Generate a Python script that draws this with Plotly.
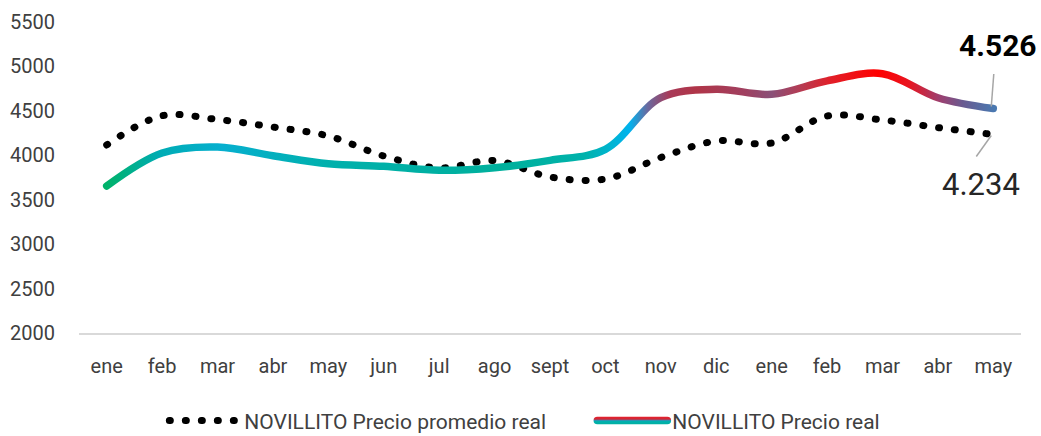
import plotly.graph_objects as go

months = ["ene", "feb", "mar", "abr", "may", "jun", "jul", "ago", "sept", "oct",
          "nov", "dic", "ene", "feb", "mar", "abr", "may"]
precio_promedio_real = [4116, 4445, 4403, 4318, 4217, 3992, 3857, 3941, 3756, 3733,
                        3975, 4161, 4138, 4442, 4397, 4312, 4234]
precio_real = [3654, 4026, 4093, 3995, 3905, 3876, 3831, 3860, 3943, 4067,
               4648, 4742, 4686, 4838, 4918, 4648, 4526]
y_ticks = [2000, 2500, 3000, 3500, 4000, 4500, 5000, 5500]

idx = list(range(len(months)))
FONT = "Roboto, 'Liberation Sans', sans-serif"
TXT = "#404040"

fig = go.Figure()
fig.add_trace(go.Scatter(
    x=idx, y=precio_promedio_real, mode="lines",
    name="NOVILLITO Precio promedio real",
    line=dict(color="#000000", width=7, dash="1px,15px", shape="spline"),
    hoverinfo="skip",
))
fig.add_trace(go.Scatter(
    x=idx, y=precio_real, mode="lines",
    name="NOVILLITO Precio real",
    line=dict(color="#00b0a0", width=7.5, shape="spline"),
    hoverinfo="skip",
))

last = len(idx) - 1
fig.add_annotation(x=idx[last], y=precio_real[last], xref="x", yref="y",
                   text="<b>4.526</b>", showarrow=False, xshift=5, yshift=63,
                   font=dict(family=FONT, size=30, color="#000000"))
fig.add_annotation(x=idx[last], y=precio_promedio_real[last], xref="x", yref="y",
                   text="4.234", showarrow=False, xshift=-12, yshift=-50,
                   font=dict(family=FONT, size=31, color="#262626"))
fig.add_shape(type="line", xref="x", yref="y", xsizemode="pixel", ysizemode="pixel",
              xanchor=idx[last], yanchor=precio_real[last],
              x0=-2, y0=2, x1=0.5, y1=34.5,
              line=dict(color="#a6a6a6", width=1.5))
fig.add_shape(type="line", xref="x", yref="y", xsizemode="pixel", ysizemode="pixel",
              xanchor=idx[last], yanchor=precio_promedio_real[last],
              x0=-2, y0=-1, x1=-17, y1=-22,
              line=dict(color="#a6a6a6", width=1.5))

fig.update_layout(
    width=1041, height=436,
    margin=dict(l=79, r=20, t=22, b=103, autoexpand=False),
    paper_bgcolor="white", plot_bgcolor="white",
    font=dict(family=FONT, size=20, color=TXT),
    showlegend=True,
    legend=dict(orientation="h", xref="container", yref="container",
                x=0.569, xanchor="center", y=0.035, yanchor="middle",
                font=dict(family=FONT, size=21, color=TXT), itemwidth=70,
                entrywidth=343,
                bgcolor="rgba(0,0,0,0)"),
    xaxis=dict(range=[-0.5, len(idx) - 0.5], tickmode="array", tickvals=idx,
               ticktext=months, showgrid=False, zeroline=False,
               showline=True, linecolor="#d9d9d9", linewidth=1.5,
               ticks="", ticklabelstandoff=14, fixedrange=True),
    yaxis=dict(range=[2000, 5500], tickmode="array", tickvals=y_ticks,
               showgrid=False, zeroline=False, showline=False, ticks="",
               ticklabelstandoff=23, fixedrange=True),
)

post = r"""
document.body.style.margin = '0';
document.body.style.padding = '0';
var gd = document.getElementById('{plot_id}');
var ns = 'http://www.w3.org/2000/svg';
var svg = gd.querySelector('svg.main-svg');
var defs = document.createElementNS(ns, 'defs');
svg.insertBefore(defs, svg.firstChild);
function grad(id, stops, vert, user) {
  var g = document.createElementNS(ns, 'linearGradient');
  g.setAttribute('id', id);
  if (user) {
    g.setAttribute('gradientUnits', 'userSpaceOnUse');
    g.setAttribute('x1', user[0]); g.setAttribute('y1', user[1]);
    g.setAttribute('x2', user[2]); g.setAttribute('y2', user[3]);
  } else {
    g.setAttribute('x1', '0'); g.setAttribute('y1', '0');
    g.setAttribute('x2', vert ? '0' : '1'); g.setAttribute('y2', vert ? '1' : '0');
  }
  stops.forEach(function(s){
    var st = document.createElementNS(ns, 'stop');
    st.setAttribute('offset', s[0]); st.setAttribute('stop-color', s[1]);
    g.appendChild(st);
  });
  defs.appendChild(g);
}
grad('gradReal', [[0,'#00b26a'],[0.06,'#00acb4'],[0.13,'#06afcf'],[0.25,'#00b0ac'],
  [0.45,'#00b09c'],[0.54,'#00b2ac'],[0.565,'#00b4cc'],[0.59,'#00b2ee'],[0.61,'#6a6aa0'],
  [0.635,'#a83a58'],[0.665,'#b03548'],[0.72,'#a04060'],[0.75,'#8a5078'],[0.785,'#b83a50'],
  [0.815,'#e0202a'],[0.87,'#ff0000'],[0.905,'#e81520'],[0.94,'#9c4070'],
  [0.965,'#6a5a90'],[1,'#4a78b0']], false);
grad('gradLeg', [[0,'#e8202a'],[0.35,'#d02838'],[0.5,'#3a8ab0'],[0.6,'#00b0b0'],[1,'#00b0a0']],
  true, ['0','-4','0','4']);
var traces = gd.querySelectorAll('.scatterlayer .trace');
traces.forEach(function(t, i){
  var p = t.querySelector('path.js-line');
  if (!p) return;
  p.style.strokeLinecap = 'round';
  p.style.strokeLinejoin = 'round';
  if (i === 1) p.style.stroke = 'url(#gradReal)';
});
var leg = gd.querySelectorAll('.legend .traces');
leg.forEach(function(t, i){
  var ps = t.querySelectorAll('path.js-line');
  ps.forEach(function(p){
    p.style.strokeLinecap = 'round';
    if (i === 1) { p.style.stroke = 'url(#gradLeg)'; }
  });
});
"""

fig.write_html("out.html", include_plotlyjs=True, post_script=post,
               config={"displayModeBar": False, "staticPlot": True})
